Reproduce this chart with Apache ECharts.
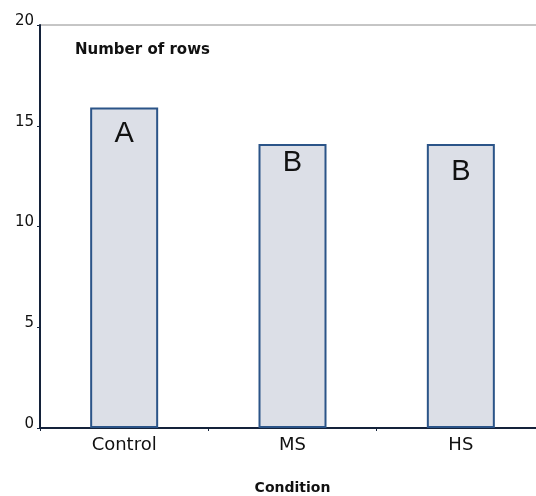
<!DOCTYPE html>
<html><head><meta charset="utf-8">
<script src="https://cdn.jsdelivr.net/npm/echarts@6/dist/echarts.min.js"></script>
<style>html,body{margin:0;padding:0;background:#fff}#c{width:536px;height:496px}</style>
</head><body><div id="c"></div>
<script>
const categories = ['Control', 'MS', 'HS'];
const rowCounts = [15.9, 14.1, 14.1];
const letters = ['A', 'B', 'B'];
const yTicks = [0, 5, 10, 15, 20];

const chart = echarts.init(document.getElementById('c'), null, {renderer: 'canvas'});
const sans = 'DejaVu Sans, sans-serif';
const arial = 'Liberation Sans, Arial, sans-serif';
const letterGap = [12, 5, 14];
chart.setOption({
  animation: false,
  title: {
    text: 'Number of rows', left: 70, top: 38,
    textStyle: {fontFamily: sans, fontSize: 15, fontWeight: 'bold', color: '#111'}
  },
  grid: {left: 40, top: 25, bottom: 68, width: 505, show: true, borderColor: '#8c8c8c', borderWidth: 1,
         containLabel: false, outerBoundsMode: 'none'},
  xAxis: {
    type: 'category', data: categories,
    name: 'Condition', nameLocation: 'middle', nameGap: 53,
    nameTextStyle: {fontFamily: sans, fontSize: 14, fontWeight: 'bold', color: '#111'},
    axisLine: {lineStyle: {color: '#14223a', width: 2}},
    axisTick: {show: true, length: 3, lineStyle: {color: '#14223a'}},
    axisLabel: {fontFamily: sans, fontSize: 18, color: '#111', margin: 8}
  },
  yAxis: {
    type: 'value', min: yTicks[0], max: yTicks[yTicks.length - 1], interval: 5,
    splitLine: {show: false},
    axisLine: {show: true, lineStyle: {color: '#14223a', width: 2}},
    axisTick: {show: true, length: 3, lineStyle: {color: '#14223a'}},
    axisLabel: {fontFamily: sans, fontSize: 15, color: '#111', margin: 6, verticalAlign: 'bottom', lineHeight: 8}
  },
  series: [{
    type: 'bar', barWidth: 68,
    data: rowCounts.map((v, i) => ({value: v, label: {distance: letterGap[i]}})),
    itemStyle: {color: '#dcdfe7', borderColor: '#2b5488', borderWidth: 2},
    label: {
      show: true, position: 'insideTop',
      formatter: p => letters[p.dataIndex],
      fontFamily: arial, fontSize: 29, color: '#111'
    }
  }]
});
</script></body></html>
